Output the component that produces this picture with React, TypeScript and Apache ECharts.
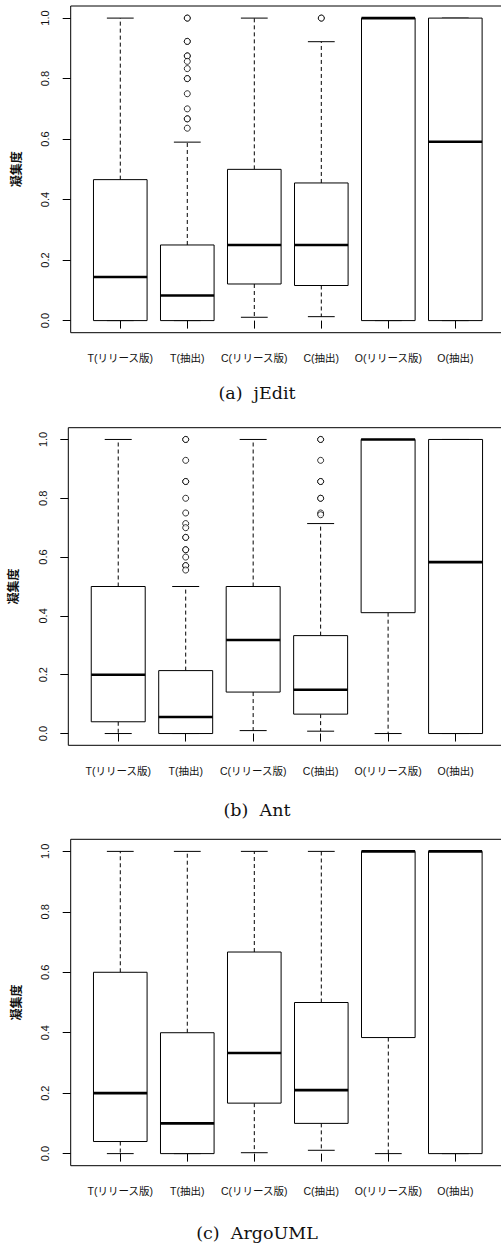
import React, { useEffect, useRef } from 'react';
import * as echarts from 'echarts';

const categories = ['T(リリース版)', 'T(抽出)', 'C(リリース版)', 'C(抽出)', 'O(リリース版)', 'O(抽出)'];
const xPositions = [1, 2, 3, 4, 5, 6];
const yTicks = [0, 0.2, 0.4, 0.6, 0.8, 1.0];

// [lower whisker, Q1, median, Q3, upper whisker]
const jeditStats = [
  [0, 0, 0.144, 0.466, 1.0],
  [0, 0, 0.083, 0.25, 0.59],
  [0.011, 0.121, 0.25, 0.5, 1.0],
  [0.013, 0.116, 0.25, 0.455, 0.922],
  [0, 0, 1.0, 1.0, 1.0],
  [0, 0, 0.591, 1.0, 1.0],
];
const antStats = [
  [0, 0.04, 0.2, 0.5, 1.0],
  [0, 0, 0.056, 0.214, 0.5],
  [0.01, 0.141, 0.318, 0.5, 1.0],
  [0.008, 0.066, 0.149, 0.333, 0.714],
  [0, 0.411, 1.0, 1.0, 1.0],
  [0, 0, 0.583, 1.0, 1.0],
];
const argoStats = [
  [0, 0.04, 0.2, 0.6, 1.0],
  [0, 0, 0.1, 0.4, 1.0],
  [0.003, 0.167, 0.333, 0.667, 1.0],
  [0.011, 0.1, 0.21, 0.5, 1.0],
  [0, 0.384, 1.0, 1.0, 1.0],
  [0, 0, 1.0, 1.0, 1.0],
];

const jeditOutliers = [
  [],
  [1.0, 1.0, 0.923, 0.923, 0.875, 0.875, 0.857, 0.833, 0.8, 0.8, 0.75, 0.7, 0.667, 0.667, 0.636],
  [],
  [1.0, 1.0],
  [],
  [],
];
const antOutliers = [
  [],
  [1.0, 1.0, 0.929, 0.857, 0.857, 0.8, 0.75, 0.714, 0.7, 0.667, 0.667, 0.625, 0.625, 0.6, 0.571, 0.571, 0.556],
  [],
  [1.0, 1.0, 0.929, 0.857, 0.857, 0.8, 0.8, 0.75, 0.744],
  [],
  [],
];
const argoOutliers = [[], [], [], [], [], []];

const captions = ['(a)  jEdit', '(b)  Ant', '(c)  ArgoUML'];

const panelStats = [jeditStats, antStats, argoStats];
const panelOutliers = [jeditOutliers, antOutliers, argoOutliers];

const panelBoxes = [
  { left: 70.7, top: 6, width: 434.2, height: 326.7, captionY: 393 },
  { left: 68.3, top: 427.7, width: 437.2, height: 317.6, captionY: 810 },
  { left: 70.7, top: 839.3, width: 434.2, height: 326.4, captionY: 1233 },
];

const SANS = "'Liberation Sans', 'Noto Sans CJK JP', sans-serif";
const SERIF = "'DejaVu Serif', 'Liberation Serif', serif";

function renderBox(params: any, api: any) {
  const x = api.value(0);
  const lo = api.value(1);
  const q1 = api.value(2);
  const med = api.value(3);
  const q3 = api.value(4);
  const hi = api.value(5);
  const boxHalf = 0.4;
  const capHalf = 0.2;
  const pTL = api.coord([x - boxHalf, q3]);
  const pBR = api.coord([x + boxHalf, q1]);
  const pMedL = api.coord([x - boxHalf, med]);
  const pMedR = api.coord([x + boxHalf, med]);
  const pQ3 = api.coord([x, q3]);
  const pQ1 = api.coord([x, q1]);
  const pHi = api.coord([x, hi]);
  const pLo = api.coord([x, lo]);
  const pHiL = api.coord([x - capHalf, hi]);
  const pHiR = api.coord([x + capHalf, hi]);
  const pLoL = api.coord([x - capHalf, lo]);
  const pLoR = api.coord([x + capHalf, lo]);
  const dashed = { stroke: '#000', lineWidth: 1, lineDash: [4, 3] };
  const solid = { stroke: '#000', lineWidth: 1 };
  return {
    type: 'group',
    children: [
      { type: 'line', shape: { x1: pQ3[0], y1: pQ3[1], x2: pHi[0], y2: pHi[1] }, style: dashed },
      { type: 'line', shape: { x1: pQ1[0], y1: pQ1[1], x2: pLo[0], y2: pLo[1] }, style: dashed },
      { type: 'line', shape: { x1: pHiL[0], y1: pHiL[1], x2: pHiR[0], y2: pHiR[1] }, style: solid },
      { type: 'line', shape: { x1: pLoL[0], y1: pLoL[1], x2: pLoR[0], y2: pLoR[1] }, style: solid },
      {
        type: 'rect',
        shape: { x: pTL[0], y: pTL[1], width: pBR[0] - pTL[0], height: pBR[1] - pTL[1] },
        style: { fill: '#fff', stroke: '#000', lineWidth: 1 },
      },
      { type: 'line', shape: { x1: pMedL[0], y1: pMedL[1], x2: pMedR[0], y2: pMedR[1] }, style: { stroke: '#000', lineWidth: 2.6 } },
    ],
  };
}

export default function App() {
  const ref = useRef<HTMLDivElement>(null);
  useEffect(() => {
    document.body.style.margin = '0';
    if (!ref.current) return;
    const chart = echarts.init(ref.current, undefined, { renderer: 'svg' });
    const grids = panelBoxes.map((b) => ({
      left: b.left,
      top: b.top,
      width: b.width,
      height: b.height,
      show: true,
      borderColor: '#000',
      borderWidth: 1,
      backgroundColor: 'transparent',
    }));
    const xAxes = panelBoxes.map((_, i) => ({
      type: 'value',
      gridIndex: i,
      min: 0.26,
      max: 6.74,
      axisLine: { show: false },
      splitLine: { show: false },
      axisTick: { show: true, customValues: xPositions, length: 8, lineStyle: { color: '#000', width: 1 } },
      axisLabel: {
        customValues: xPositions,
        formatter: (v: number) => categories[Math.round(v) - 1] ?? '',
        fontSize: 10.5,
        color: '#111',
        margin: 20,
        fontFamily: SANS,
      },
    }));
    const yAxes = panelBoxes.map((_, i) => ({
      type: 'value',
      gridIndex: i,
      min: -0.04,
      max: 1.04,
      axisLine: { show: false },
      splitLine: { show: false },
      axisTick: { show: true, customValues: yTicks, length: 8, lineStyle: { color: '#000', width: 1 } },
      axisLabel: {
        customValues: yTicks,
        rotate: 90,
        formatter: (v: number) => v.toFixed(1),
        fontSize: 11,
        color: '#111',
        margin: 20,
        fontFamily: SANS,
      },
      name: '凝集度',
      nameLocation: 'middle',
      nameRotate: 90,
      nameGap: 48,
      nameTextStyle: { fontSize: 12, fontWeight: 'bold', color: '#111', fontFamily: SANS },
    }));
    const series: any[] = [];
    panelStats.forEach((stats, i) => {
      series.push({
        type: 'custom',
        xAxisIndex: i,
        yAxisIndex: i,
        renderItem: renderBox,
        encode: { x: 0, y: [1, 2, 3, 4, 5] },
        data: stats.map((s, k) => [xPositions[k], ...s]),
        z: 2,
      });
      series.push({
        type: 'scatter',
        xAxisIndex: i,
        yAxisIndex: i,
        symbol: 'circle',
        symbolSize: 6,
        itemStyle: { color: '#fff', borderColor: '#000', borderWidth: 1 },
        data: panelOutliers[i].flatMap((arr, k) => arr.map((v) => [xPositions[k], v])),
        z: 3,
      });
    });
    chart.setOption({
      animation: false,
      backgroundColor: '#fff',
      grid: grids,
      xAxis: xAxes,
      yAxis: yAxes,
      series,
      graphic: panelBoxes.map((b, i) => ({
        type: 'text',
        x: 257,
        y: b.captionY,
        style: {
          text: captions[i],
          textAlign: 'center',
          textVerticalAlign: 'middle',
          fontSize: 17.5,
          fontFamily: SERIF,
          fill: '#111',
        },
      })),
    });
    return () => chart.dispose();
  }, []);
  return (
    <div style={{ position: 'absolute', left: 0, top: 0, width: 501, height: 1246, overflow: 'hidden' }}>
      <div ref={ref} style={{ width: 530, height: 1246 }} />
    </div>
  );
}
